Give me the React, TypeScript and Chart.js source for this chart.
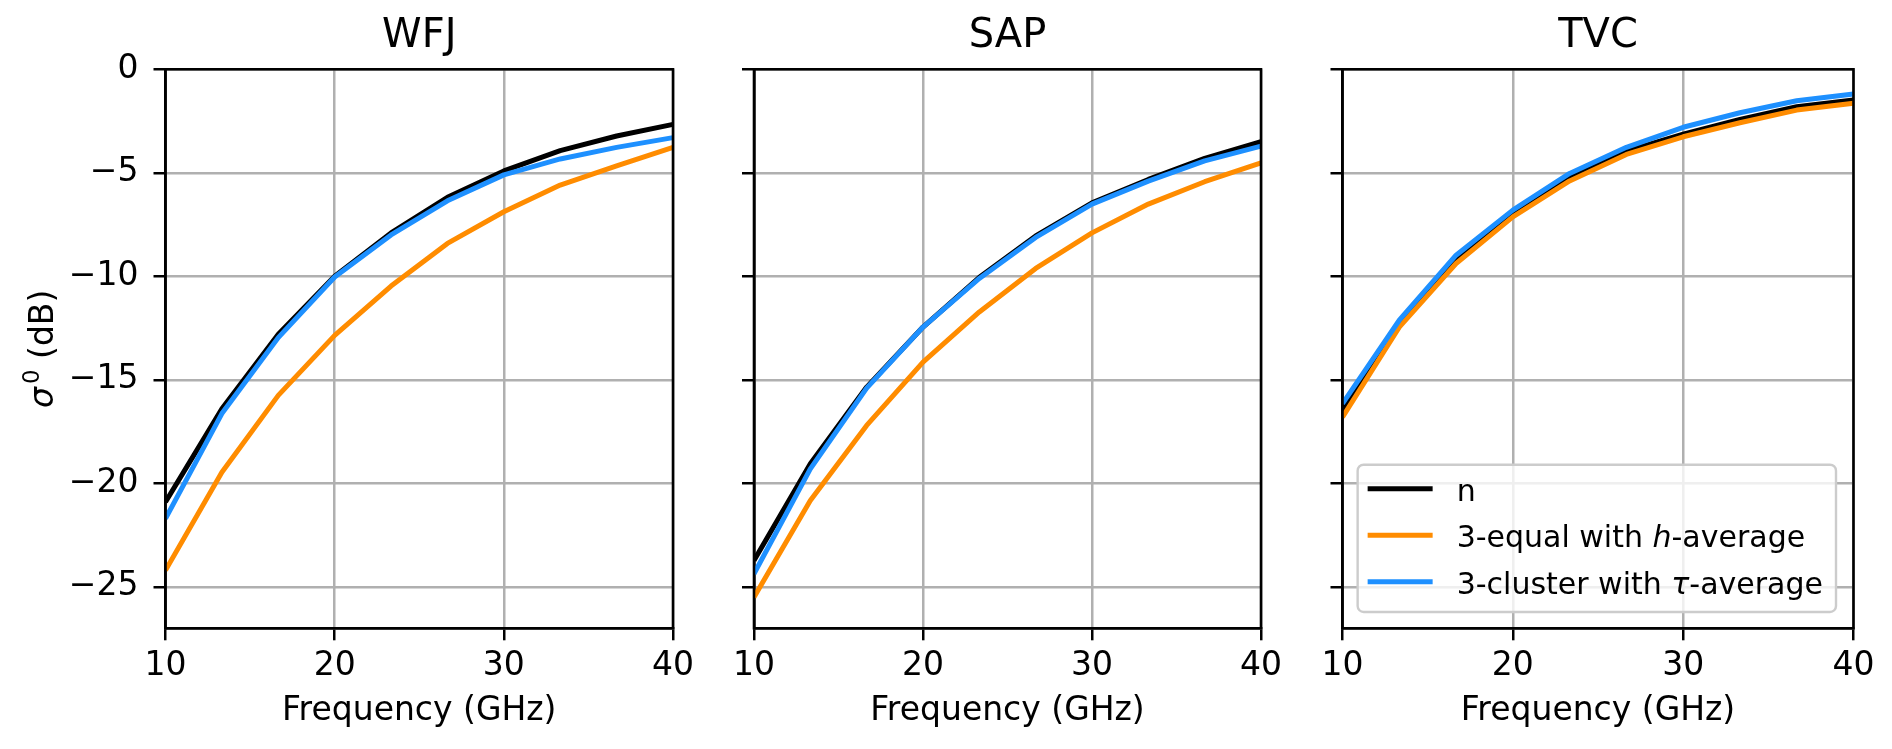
import React, { useEffect, useRef } from 'react';
import { Chart, registerables } from 'chart.js';

Chart.register(...registerables);

// ---------------- data ----------------
const FREQ_GHZ = [10, 13.333, 16.667, 20, 23.333, 26.667, 30, 33.333, 36.667, 40];

const WFJ_N = [-20.9, -16.4, -12.8, -10.0, -7.9, -6.18, -4.91, -3.93, -3.22, -2.66];
const WFJ_EQUAL_H = [-24.2, -19.46, -15.75, -12.85, -10.47, -8.41, -6.88, -5.59, -4.67, -3.77];
const WFJ_CLUSTER_TAU = [-21.7, -16.63, -12.96, -10.03, -8.0, -6.35, -5.1, -4.33, -3.77, -3.3];

const SAP_N = [-23.73, -19.05, -15.35, -12.45, -10.05, -8.05, -6.45, -5.32, -4.3, -3.5];
const SAP_EQUAL_H = [-25.5, -20.83, -17.2, -14.14, -11.72, -9.62, -7.9, -6.51, -5.43, -4.52];
const SAP_CLUSTER_TAU = [-24.37, -19.3, -15.4, -12.45, -10.1, -8.12, -6.51, -5.4, -4.42, -3.71];

const TVC_N = [-16.48, -12.28, -9.17, -6.96, -5.22, -3.95, -3.13, -2.42, -1.81, -1.48];
const TVC_EQUAL_H = [-16.8, -12.45, -9.38, -7.13, -5.39, -4.11, -3.26, -2.58, -1.97, -1.64];
const TVC_CLUSTER_TAU = [-16.15, -12.12, -8.98, -6.8, -5.03, -3.77, -2.8, -2.1, -1.52, -1.19];

const PANEL_TITLES = ['WFJ', 'SAP', 'TVC'];
const SERIES_LABELS = ['n', '3-equal with h-average', '3-cluster with τ-average'];
const SERIES_ITALIC = ['', 'h', 'τ'];
const SERIES_COLORS = ['#000000', '#ff8c00', '#1e90ff'];

const X_TICKS = [10, 20, 30, 40];
const Y_TICKS = [0, -5, -10, -15, -20, -25];
const X_MIN = 10;
const X_MAX = 40;
const Y_MIN = -27;
const Y_MAX = 0;

const X_TITLE = 'Frequency (GHz)';
// y title: italic sigma, superscript 0, then " (dB)"
const Y_TITLE_SYMBOL = 'σ';
const Y_TITLE_SUP = '0';
const Y_TITLE_REST = ' (dB)';

const PANEL_SERIES = [
  [WFJ_N, WFJ_EQUAL_H, WFJ_CLUSTER_TAU],
  [SAP_N, SAP_EQUAL_H, SAP_CLUSTER_TAU],
  [TVC_N, TVC_EQUAL_H, TVC_CLUSTER_TAU],
];

// ---------------- layout ----------------
const FONT = '"DejaVu Sans", "Liberation Sans", sans-serif';
const LABEL_SIZE = 33;
const TITLE_SIZE = 40;
const LEGEND_SIZE = 30;
const CANVAS_H = 749;
const LAYOUT = [
  { left: 0, width: 700, axisW: 165.5, padRight: 23, showYLabels: true, legend: false },
  { left: 700, width: 588, axisW: 54, padRight: 22.5, showYLabels: false, legend: false },
  { left: 1288, width: 604, axisW: 54.5, padRight: 38.5, showYLabels: false, legend: true },
];

const framePlugin = {
  id: 'axesFrame',
  afterDraw(chart: any) {
    const { ctx, chartArea: ca } = chart;
    ctx.save();
    ctx.strokeStyle = '#000';
    ctx.lineWidth = 2.6;
    ctx.strokeRect(ca.left, ca.top, ca.right - ca.left, ca.bottom - ca.top);
    ctx.restore();
  },
};

const yTitlePlugin = {
  id: 'yMathTitle',
  afterDraw(chart: any, _args: any, opts: any) {
    if (!opts || !opts.display) return;
    const { ctx, chartArea: ca } = chart;
    const size = LABEL_SIZE;
    const supSize = Math.round(size * 0.7);
    const fSym = `italic ${size}px ${FONT}`;
    const fSup = `${supSize}px ${FONT}`;
    const fRest = `${size}px ${FONT}`;
    ctx.save();
    ctx.font = fSym;
    const wSym = ctx.measureText(Y_TITLE_SYMBOL).width;
    ctx.font = fSup;
    const wSup = ctx.measureText(Y_TITLE_SUP).width;
    ctx.font = fRest;
    const wRest = ctx.measureText(Y_TITLE_REST).width;
    const gap = 3;
    const total = wSym + gap + wSup + wRest;
    const cx = opts.centerX;
    const cy = (ca.top + ca.bottom) / 2;
    ctx.translate(cx, cy);
    ctx.rotate(-Math.PI / 2);
    ctx.fillStyle = '#000';
    ctx.textAlign = 'left';
    ctx.textBaseline = 'alphabetic';
    const base = size * 0.35;
    let x = -total / 2;
    ctx.font = fSym;
    ctx.fillText(Y_TITLE_SYMBOL, x, base);
    x += wSym + gap;
    ctx.font = fSup;
    ctx.fillText(Y_TITLE_SUP, x, base - size * 0.42);
    x += wSup;
    ctx.font = fRest;
    ctx.fillText(Y_TITLE_REST, x, base);
    ctx.restore();
  },
};

const innerLegendPlugin = {
  id: 'innerLegend',
  afterDraw(chart: any, _args: any, opts: any) {
    if (!opts || !opts.display) return;
    const { ctx, chartArea: ca } = chart;
    const size = LEGEND_SIZE;
    const normal = `${size}px ${FONT}`;
    const italic = `italic ${size}px ${FONT}`;
    const items = chart.data.datasets.map((ds: any, i: number) => {
      const label: string = ds.label;
      const it: string = (opts.italic && opts.italic[i]) || '';
      let segs: { t: string; it: boolean }[] = [{ t: label, it: false }];
      if (it) {
        const idx = label.indexOf(' ' + it + '-');
        if (idx >= 0) {
          segs = [
            { t: label.slice(0, idx + 1), it: false },
            { t: it, it: true },
            { t: label.slice(idx + 1 + it.length), it: false },
          ];
        }
      }
      return { segs, color: ds.borderColor };
    });
    ctx.save();
    const widths = items.map((item: any) =>
      item.segs.reduce((w: number, s: any) => {
        ctx.font = s.it ? italic : normal;
        return w + ctx.measureText(s.t).width;
      }, 0)
    );
    const textW = Math.max(...widths);
    const rowGap = 46.5;
    const boxRight = ca.right - 17.5;
    const boxBottom = ca.bottom - 16.3;
    const lastRowY = boxBottom - 30.3;
    const n = items.length;
    const rowYs = items.map((_: any, i: number) => lastRowY - (n - 1 - i) * rowGap);
    const boxTop = rowYs[0] - 24;
    const boxW = 10 + 65 + 24 + textW + 13;
    const boxLeft = boxRight - boxW;

    ctx.beginPath();
    (ctx as any).roundRect(boxLeft, boxTop, boxW, boxBottom - boxTop, 6);
    ctx.fillStyle = 'rgba(255,255,255,0.8)';
    ctx.fill();
    ctx.strokeStyle = '#cccccc';
    ctx.lineWidth = 2.4;
    ctx.stroke();

    items.forEach((item: any, i: number) => {
      const y = rowYs[i];
      ctx.beginPath();
      ctx.moveTo(boxLeft + 10, y);
      ctx.lineTo(boxLeft + 75, y);
      ctx.strokeStyle = item.color;
      ctx.lineWidth = 5;
      ctx.lineCap = 'butt';
      ctx.stroke();
      let x = boxLeft + 99;
      ctx.fillStyle = '#000';
      ctx.textBaseline = 'alphabetic';
      ctx.textAlign = 'left';
      item.segs.forEach((s: any) => {
        ctx.font = s.it ? italic : normal;
        ctx.fillText(s.t, x, y + 12);
        x += ctx.measureText(s.t).width;
      });
    });
    ctx.restore();
  },
};

function minusLabel(v: number) {
  return v < 0 ? '\u2212' + Math.abs(v) : String(v);
}

function Panel({ index }: { index: number }) {
  const ref = useRef<HTMLCanvasElement>(null);
  const lay = LAYOUT[index];

  useEffect(() => {
    const series = PANEL_SERIES[index];
    const datasets = series.map((vals, i) => ({
      label: SERIES_LABELS[i],
      data: FREQ_GHZ.map((f, k) => ({ x: f, y: vals[k] })),
      borderColor: SERIES_COLORS[i],
      backgroundColor: SERIES_COLORS[i],
      borderWidth: 5,
      pointRadius: 0,
      pointHoverRadius: 0,
      tension: 0,
      fill: false,
      borderJoinStyle: 'round' as const,
      order: series.length - i,
    }));

    const chart = new Chart(ref.current as HTMLCanvasElement, {
      type: 'line',
      data: { datasets },
      plugins: [framePlugin, yTitlePlugin, innerLegendPlugin],
      options: {
        responsive: false,
        animation: false,
        events: [],
        layout: { padding: { left: 0, right: lay.padRight, top: 0, bottom: 0 } },
        scales: {
          x: {
            type: 'linear',
            min: X_MIN,
            max: X_MAX,
            afterBuildTicks: (scale: any) => {
              scale.ticks = X_TICKS.map((v) => ({ value: v }));
            },
            afterFit: (scale: any) => {
              scale.height = CANVAS_H - 628.3;
            },
            ticks: {
              color: '#000',
              font: { family: FONT, size: LABEL_SIZE },
              padding: 6,
              maxRotation: 0,
              autoSkip: false,
              callback: (v: any) => String(v),
            },
            grid: {
              color: '#b0b0b0',
              lineWidth: 2.5,
              drawTicks: true,
              tickLength: 12,
              tickColor: '#000',
              tickWidth: 2.5,
            },
            border: { display: true, color: '#000', width: 2.6 },
            title: {
              display: true,
              text: X_TITLE,
              color: '#000',
              font: { family: FONT, size: LABEL_SIZE },
              padding: { top: 0, bottom: 17.6 },
            },
          },
          y: {
            type: 'linear',
            min: Y_MIN,
            max: Y_MAX,
            afterBuildTicks: (scale: any) => {
              scale.ticks = Y_TICKS.map((v) => ({ value: v }));
            },
            afterFit: (scale: any) => {
              scale.width = lay.axisW;
            },
            ticks: {
              display: lay.showYLabels,
              color: '#000',
              font: { family: FONT, size: LABEL_SIZE },
              padding: 15,
              callback: (v: any) => minusLabel(Number(v)),
            },
            grid: {
              color: '#b0b0b0',
              lineWidth: 2.5,
              drawTicks: true,
              tickLength: 12,
              tickColor: '#000',
              tickWidth: 2.5,
            },
            border: { display: true, color: '#000', width: 2.6 },
          },
        },
        plugins: {
          legend: { display: false },
          tooltip: { enabled: false },
          title: {
            display: true,
            text: PANEL_TITLES[index],
            fullSize: false,
            color: '#000',
            font: { family: FONT, size: TITLE_SIZE, weight: 'normal' },
            padding: { top: 12.7, bottom: 8.6 },
          },
          yMathTitle: { display: lay.showYLabels, centerX: 41 },
          innerLegend: { display: lay.legend, italic: SERIES_ITALIC },
        } as any,
      },
    } as any);
    return () => chart.destroy();
  }, [index]);

  return (
    <canvas
      ref={ref}
      width={lay.width}
      height={CANVAS_H}
      style={{ position: 'absolute', left: lay.left, top: 0, width: lay.width, height: CANVAS_H }}
    />
  );
}

export default function App() {
  return (
    <div
      style={{
        position: 'absolute',
        left: 0,
        top: 0,
        width: 1892,
        height: CANVAS_H,
        background: '#fff',
        overflow: 'hidden',
      }}
    >
      {PANEL_TITLES.map((_, i) => (
        <Panel key={i} index={i} />
      ))}
    </div>
  );
}
